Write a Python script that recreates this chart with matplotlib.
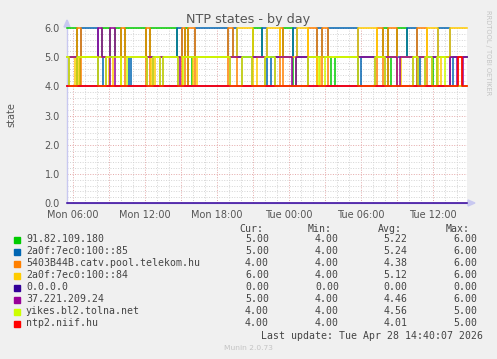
import numpy as np
import matplotlib.pyplot as plt
from matplotlib.patches import Rectangle, Polygon

# time axis in hours since Mon 00:00, one pixel = 5 minutes
t_start = 5.5
t_end = 5.5 + 400 / 12.0

names = ["91.82.109.180", "2a0f:7ec0:100::85", "5403B44B.catv.pool.telekom.hu",
         "2a0f:7ec0:100::84", "0.0.0.0", "37.221.209.24", "yikes.bl2.tolna.net",
         "ntp2.niif.hu"]
colors = ["#00cc00", "#0066b3", "#ff8000", "#ffcc00", "#330099", "#990099",
          "#ccff00", "#ff0000"]

# step series: change times (hours) and state from that time on
green_t = [5.5, 6.33, 6.6, 8.42, 9.08, 9.5, 10.0, 10.33, 12.08, 12.42, 14.67, 15.33,
           15.58, 15.9, 21.0, 21.75, 23.5, 24.33, 24.6, 27.5, 27.8, 31.83, 32.25,
           32.5, 33.0, 33.83, 36.0, 36.3]
green_v = [6, 4, 5, 6, 5, 6, 5, 6, 5, 6, 5, 6, 4, 5, 6, 5, 6, 4, 5, 4, 5, 6, 4, 5,
           6, 5, 4, 5]

blue_t = [5.5, 6.67, 8.08, 8.5, 10.67, 10.83, 14.67, 15.08, 16.17, 18.92, 19.33,
          19.67, 21.75, 22.17, 22.5, 24.33, 24.67, 26.33, 26.75, 27.25, 29.75, 30.0,
          33.83, 34.67, 34.9, 36.42, 37.42, 37.7]
blue_v = [5, 6, 4, 5, 4, 5, 6, 5, 6, 5, 6, 5, 6, 4, 5, 6, 5, 6, 5, 6, 4, 5, 6, 4,
          5, 6, 4, 5]

orange_t = [5.5, 6.33, 6.67, 10.0, 10.33, 12.08, 12.42, 15.08, 15.33, 15.58, 16.17,
            18.92, 19.33, 19.67, 23.25, 23.5, 25.58, 26.33, 26.75, 27.25, 31.33,
            31.83, 32.25, 33.0, 34.67, 35.5, 38.1, 38.4]
orange_v = [4, 6, 4, 6, 4, 6, 4, 6, 4, 6, 4, 6, 5, 4, 6, 4, 6, 4, 6, 4, 6, 4, 6, 4,
            6, 4, 5, 4]

yellow_t = [5.5, 6.2, 6.5, 9.0, 9.3, 12.5, 12.8, 16.0, 16.3, 19.67, 21.0, 21.3,
            22.17, 23.25, 24.67, 25.58, 26.3, 26.6, 29.75, 31.33, 33.0, 33.3, 35.5,
            36.42, 36.7, 37.42]
yellow_v = [5, 4, 5, 4, 5, 4, 5, 4, 5, 6, 4, 5, 6, 5, 6, 5, 4, 5, 6, 5, 4, 5, 6, 4,
            5, 6]

zero_t = [5.5]
zero_v = [0]

purple_t = [5.5, 5.67, 6.33, 8.08, 8.42, 8.75, 9.08, 9.5, 12.17, 12.67, 13.25, 13.5,
            14.75, 14.92, 19.08, 20.08, 20.92, 22.0, 22.83, 24.25, 24.58, 25.58,
            29.75, 31.17, 32.0, 33.0, 33.25, 34.33, 34.75, 35.33, 35.92, 36.33,
            37.42, 38.0, 38.5]
purple_v = [4, 5, 4, 6, 5, 4, 6, 4, 5, 4, 5, 4, 5, 4, 5, 4, 5, 4, 5, 4, 5, 4, 5, 4,
            5, 4, 5, 4, 5, 4, 5, 4, 5, 4, 5]

yikes_t = [5.5, 5.67, 6.33, 8.08, 8.75, 10.0, 10.5, 12.17, 12.67, 13.25, 13.5, 14.75,
           15.2, 19.08, 20.08, 20.92, 22.0, 22.83, 25.58, 26.5, 27.0, 29.75, 31.17,
           32.0, 34.33, 34.75, 35.33, 35.92, 36.33, 37.0]
yikes_v = [5, 4, 5, 4, 5, 4, 5, 4, 5, 4, 5, 4, 5, 4, 5, 4, 5, 4, 5, 4, 5, 4, 5, 4,
           5, 4, 5, 4, 5, 4]

ntp2_t = [5.5, 38.1, 38.42]
ntp2_v = [4, 5, 4]

series = [(green_t, green_v), (blue_t, blue_v), (orange_t, orange_v),
          (yellow_t, yellow_v), (zero_t, zero_v), (purple_t, purple_v),
          (yikes_t, yikes_v), (ntp2_t, ntp2_v)]

cur = ["5.00", "5.00", "4.00", "6.00", "0.00", "5.00", "4.00", "4.00"]
mins = ["4.00", "4.00", "4.00", "4.00", "0.00", "4.00", "4.00", "4.00"]
avgs = ["5.22", "5.24", "4.38", "5.12", "0.00", "4.46", "4.56", "4.01"]
maxs = ["6.00", "6.00", "6.00", "6.00", "0.00", "6.00", "5.00", "5.00"]

tick_hours = [6, 12, 18, 24, 30, 36]
tick_labels = ["Mon 06:00", "Mon 12:00", "Mon 18:00", "Tue 00:00", "Tue 06:00",
               "Tue 12:00"]

W, H = 497, 359
fig = plt.figure(figsize=(W / 100, H / 100), dpi=100, facecolor="#f0f0f0")
ax = fig.add_axes([67 / W, 1 - 203 / H, 400 / W, 175 / H])
ax.set_facecolor("white")
ax.set_xlim(t_start, t_end)
ax.set_ylim(0, 6)
for s in ax.spines.values():
    s.set_visible(False)

# grid, rrdtool style dotted
dots = (0, (1, 1.6))
for h in np.arange(6, 39, 1):
    major = (h % 3 == 0)
    ax.axvline(h, color="#e4a8a8" if major else "#d4d4d4", lw=0.7, ls=dots, zorder=0)
for y in np.arange(0.2, 6.01, 0.2):
    major = abs(y - round(y)) < 1e-6
    ax.axhline(y, color="#e4a8a8" if major else "#d4d4d4", lw=0.7, ls=dots, zorder=0)

# axis lines with arrows
ax.plot([t_start, t_start], [0, 6.25], color="#c8c8f0", lw=1, clip_on=False, zorder=1)
ax.plot([t_start, t_end + 0.1], [0, 0], color="#c8c8f0", lw=1, clip_on=False, zorder=1)
ax.add_patch(Polygon([[67 / W, 1 - 20 / H], [64 / W, 1 - 27 / H], [70 / W, 1 - 27 / H]],
                     closed=True, transform=fig.transFigure, color="#c8c8f0",
                     clip_on=False))
ax.add_patch(Polygon([[475 / W, 1 - 203 / H], [468 / W, 1 - 200 / H], [468 / W, 1 - 206 / H]],
                     closed=True, transform=fig.transFigure, color="#c8c8f0",
                     clip_on=False))

for i, (t, v) in enumerate(series):
    tt = list(t) + [t_end]
    vv = list(v) + [v[-1]]
    ax.plot(tt, vv, drawstyle="steps-post", color=colors[i], lw=1.1,
            clip_on=False, zorder=2 + i)

ax.set_xticks(tick_hours)
ax.set_xticklabels(tick_labels)
ax.set_yticks(np.arange(0, 7, 1))
ax.set_yticklabels(["%.1f" % y for y in range(7)])
ax.tick_params(length=0, labelsize=7, labelcolor="#555555")
ax.tick_params(axis="x", pad=5)
ax.tick_params(axis="y", pad=5)


def ft(x, y, s, **kw):
    fig.text(x / W, 1 - y / H, s, **kw)


ft(248, 19.5, "NTP states - by day", ha="center", va="center", fontsize=9.2,
   color="#555555")
ft(11, 115, "state", ha="center", va="center", rotation=90, fontsize=7,
   color="#555555")
ft(488, 53, "RRDTOOL / TOBI OETIKER", ha="center", va="center", rotation=270,
   fontsize=4.8, color="#c4c4c4")

mono = dict(family="DejaVu Sans Mono", fontsize=7.1, color="#444444", va="center")
header_x = [263, 332, 402, 470]
col_x = [269, 339, 407.5, 477]
for hx, lab in zip(header_x, ["Cur:", "Min:", "Avg:", "Max:"]):
    ft(hx, 228.5, lab, ha="right", **mono)
for i, name in enumerate(names):
    y = 239.5 + 12 * i
    fig.patches.append(Rectangle((14 / W, 1 - (y + 3) / H), 6 / W, 6 / H,
                                 transform=fig.transFigure, color=colors[i]))
    ft(26, y, name, ha="left", **mono)
    for cx, val in zip(col_x, [cur[i], mins[i], avgs[i], maxs[i]]):
        ft(cx, y, val, ha="right", **mono)
ft(483, 335.7, "Last update: Tue Apr 28 14:40:07 2026", ha="right", **mono)
ft(248, 347.7, "Munin 2.0.73", ha="center", va="center", fontsize=5.4,
   color="#c4c4c4")

fig.savefig("out.png", dpi=100, facecolor=fig.get_facecolor())
